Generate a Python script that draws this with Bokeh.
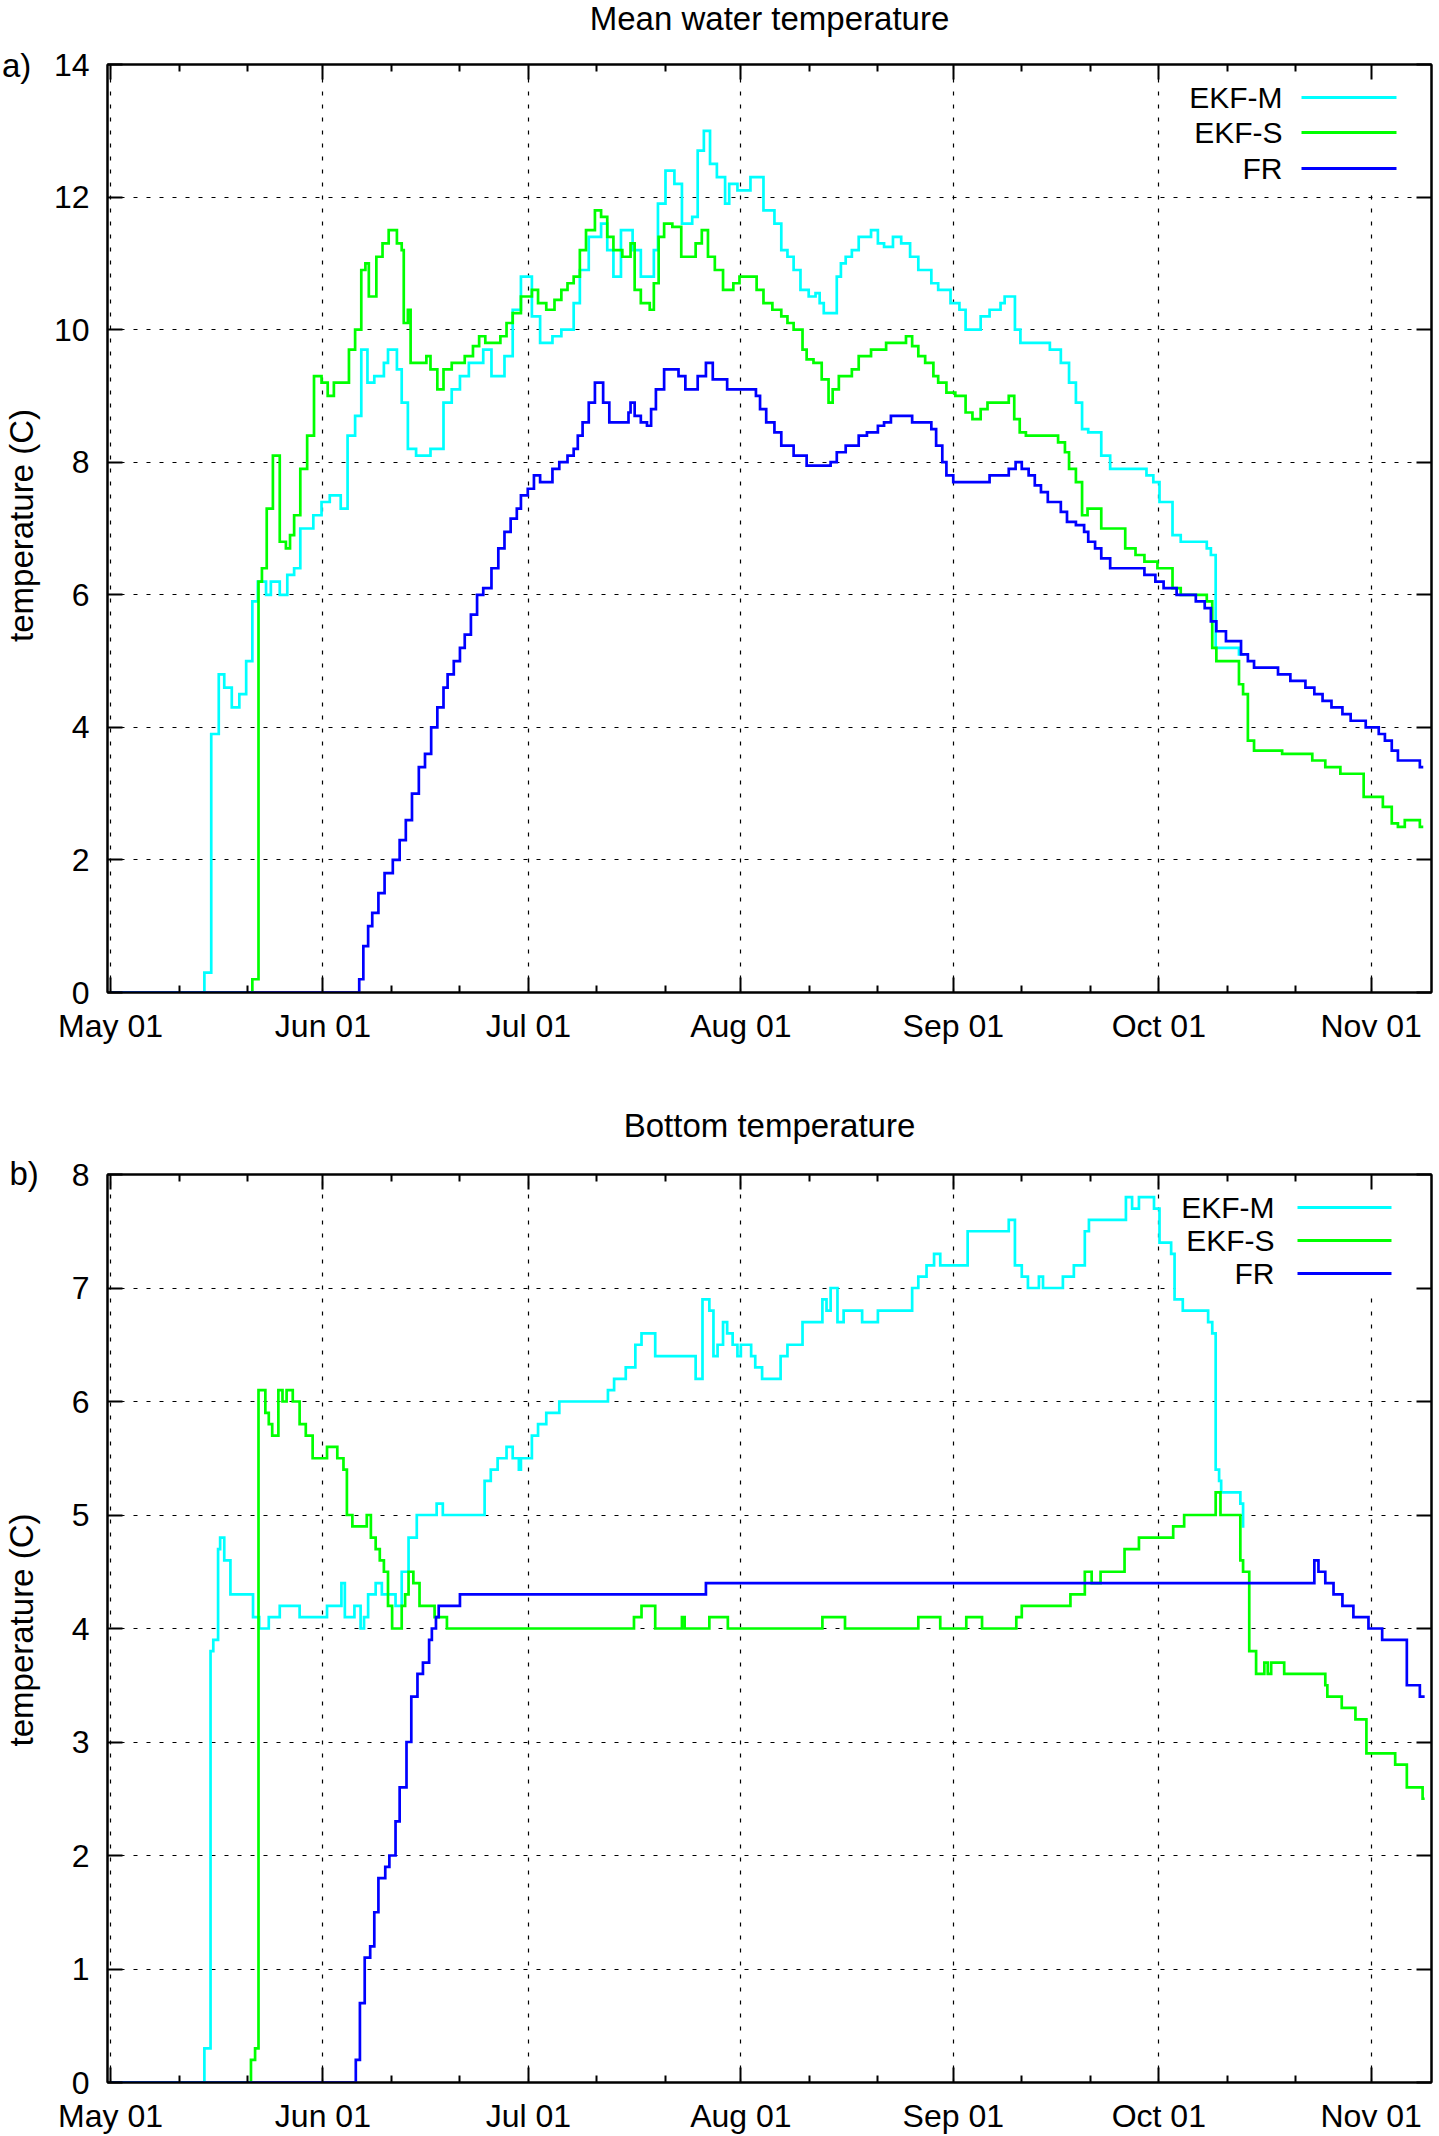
from bokeh.plotting import figure
from bokeh.models import Range1d, FixedTicker, LinearAxis, Label, BoxAnnotation
from bokeh.core.properties import value
from bokeh.layouts import column
from bokeh.embed import file_html
from bokeh.resources import INLINE

FONT = "Liberation Sans"

# ---------------- axis ticks / labels ----------------
month_days = [0, 31, 61, 92, 123, 153, 184]
month_labels = ["May 01", "Jun 01", "Jul 01", "Aug 01", "Sep 01", "Oct 01", "Nov 01"]
minor_days = [10, 20, 41, 51, 71, 81, 102, 112, 133, 143, 163, 173]
x_start, x_end = -0.44, 192.8

mean_yticks = [0, 2, 4, 6, 8, 10, 12, 14]
bottom_yticks = [0, 1, 2, 3, 4, 5, 6, 7, 8]

series_names = ["EKF-M", "EKF-S", "FR"]
series_colors = ["#00ffff", "#00ff00", "#0000ff"]

# ---------------- a) Mean water temperature ----------------
# days since May 01, temperature (C)
mean_ekfm_day = [0, 13.7, 14.7, 15.8, 16.6, 17.7, 18.8, 19.8, 20.7, 21.5,
                 22.7, 23.4, 24.7, 25.8, 26.8, 27.7, 29.6, 30.8, 32.0, 33.6,
                 34.6, 35.7, 36.6, 37.5, 38.5, 39.9, 40.5, 41.8, 42.5, 43.4,
                 44.6, 46.7, 48.6, 49.8, 51.0, 52.3, 54.4, 55.6, 57.5, 58.7,
                 59.9, 61.5, 62.7, 64.5, 65.8, 67.6, 68.5, 69.8, 71.6, 72.5,
                 73.4, 74.5, 76.2, 77.4, 79.3, 79.9, 81.0, 82.3, 83.4, 84.9,
                 85.7, 86.6, 87.5, 88.5, 89.7, 90.3, 91.5, 93.4, 95.3, 96.9,
                 97.9, 98.8, 99.7, 100.7, 101.9, 102.9, 103.5, 104.1, 106.0, 106.6,
                 107.3, 108.2, 109.2, 111.0, 112.0, 112.9, 114.2, 115.4, 116.7, 117.9,
                 119.8, 120.8, 122.6, 123.9, 124.8, 127.0, 128.3, 129.9, 130.5, 132.0,
                 132.8, 137.1, 138.7, 139.9, 140.9, 141.8, 142.7, 144.6, 145.9, 151.2,
                 152.2, 153.1, 155.0, 156.2, 160.0, 160.6, 161.3, 164.7, 165.5]
mean_ekfm_temp = [0.0, 0.3, 3.9, 4.8, 4.6, 4.3, 4.5, 5.0, 5.9, 6.2,
                  6.0, 6.2, 6.0, 6.3, 6.4, 7.0, 7.2, 7.4, 7.5, 7.3,
                  8.4, 8.7, 9.7, 9.2, 9.3, 9.5, 9.7, 9.4, 8.9, 8.2,
                  8.1, 8.2, 8.9, 9.1, 9.3, 9.5, 9.7, 9.3, 9.6, 10.3,
                  10.8, 10.2, 9.8, 9.9, 10.0, 10.4, 10.9, 11.4, 11.6, 11.2,
                  10.8, 11.5, 11.2, 10.8, 11.2, 11.9, 12.4, 12.2, 11.6, 11.7,
                  12.7, 13.0, 12.5, 12.3, 11.9, 12.2, 12.1, 12.3, 11.8, 11.6,
                  11.2, 11.1, 10.9, 10.6, 10.5, 10.55, 10.4, 10.25, 10.8, 11.0,
                  11.1, 11.2, 11.4, 11.5, 11.3, 11.25, 11.4, 11.3, 11.1, 10.9,
                  10.7, 10.6, 10.4, 10.3, 10.0, 10.2, 10.3, 10.4, 10.5, 10.0,
                  9.8, 9.7, 9.5, 9.2, 8.9, 8.5, 8.45, 8.1, 7.9, 7.8,
                  7.7, 7.4, 6.9, 6.8, 6.7, 6.6, 5.2, 5.1, 5.1]

mean_ekfs_day = [0, 20.7, 21.6, 22.1, 22.8, 23.7, 24.7, 25.6, 26.2, 26.8,
                 27.7, 28.7, 29.7, 30.8, 31.7, 32.6, 34.8, 35.7, 36.6, 37.2,
                 37.7, 38.8, 39.7, 40.6, 41.8, 42.5, 42.8, 43.4, 43.8, 46.1,
                 46.7, 47.7, 48.6, 49.8, 51.7, 52.9, 53.8, 54.7, 56.9, 57.8,
                 58.7, 59.9, 61.5, 62.4, 63.6, 64.8, 65.8, 66.7, 67.6, 68.5,
                 69.4, 70.7, 71.6, 72.5, 73.4, 74.7, 75.9, 76.5, 77.4, 78.7,
                 79.3, 80.0, 80.8, 82.0, 83.3, 85.4, 86.3, 87.2, 88.2, 89.4,
                 90.9, 91.8, 94.3, 95.3, 96.6, 97.9, 98.8, 99.7, 101.0, 101.6,
                 102.6, 103.8, 104.8, 105.4, 106.3, 108.2, 109.2, 111.0, 113.2, 116.1,
                 117.0, 117.9, 118.9, 120.1, 120.8, 122.0, 123.3, 124.8, 125.8, 127.0,
                 128.0, 131.1, 131.9, 132.7, 133.6, 138.3, 139.3, 139.9, 140.9, 141.8,
                 142.6, 144.6, 148.1, 149.6, 150.9, 152.8, 155.0, 156.2, 160.0, 160.8,
                 161.4, 164.7, 165.3, 166.0, 166.9, 171.0, 175.4, 177.3, 179.5, 182.9,
                 185.7, 187.0, 187.9, 188.9, 191.1, 191.6]
mean_ekfs_temp = [0.0, 0.2, 6.2, 6.4, 7.3, 8.1, 6.8, 6.7, 6.9, 7.2,
                  7.9, 8.4, 9.3, 9.2, 9.0, 9.2, 9.7, 10.0, 10.9, 11.0,
                  10.5, 11.1, 11.3, 11.5, 11.3, 11.2, 10.1, 10.3, 9.5, 9.6,
                  9.4, 9.1, 9.4, 9.5, 9.6, 9.75, 9.9, 9.8, 9.9, 10.1,
                  10.25, 10.5, 10.6, 10.4, 10.3, 10.45, 10.6, 10.7, 10.8, 11.2,
                  11.5, 11.8, 11.7, 11.4, 11.2, 11.1, 11.3, 10.6, 10.4, 10.3,
                  10.7, 11.4, 11.6, 11.55, 11.1, 11.3, 11.5, 11.1, 10.9, 10.6,
                  10.7, 10.8, 10.6, 10.4, 10.3, 10.2, 10.1, 10.0, 9.7, 9.55,
                  9.5, 9.25, 8.9, 9.1, 9.3, 9.4, 9.6, 9.7, 9.8, 9.9,
                  9.75, 9.6, 9.5, 9.3, 9.2, 9.05, 9.0, 8.75, 8.65, 8.8,
                  8.9, 9.0, 8.65, 8.45, 8.4, 8.3, 8.15, 7.9, 7.7, 7.2,
                  7.3, 7.0, 6.7, 6.6, 6.5, 6.4, 6.1, 6.0, 5.9, 5.2,
                  5.0, 4.65, 4.5, 3.8, 3.65, 3.6, 3.5, 3.4, 3.3, 2.95,
                  2.8, 2.55, 2.5, 2.6, 2.5, 2.5]

mean_fr_day = [0, 35.7, 36.3, 36.9, 37.6, 38.2, 39.1, 40.0, 41.2, 42.2,
               43.1, 44.0, 45.0, 45.9, 46.8, 47.7, 48.6, 49.2, 50.1, 51.0,
               51.7, 52.6, 53.5, 54.4, 55.6, 56.6, 57.5, 58.4, 59.3, 59.9,
               60.9, 61.8, 62.7, 64.5, 65.5, 66.7, 67.6, 68.2, 68.9, 69.8,
               70.7, 71.9, 72.8, 75.6, 75.9, 76.5, 77.4, 78.3, 78.9, 79.6,
               80.8, 82.9, 83.9, 85.7, 86.9, 87.9, 90.0, 94.2, 94.8, 95.7,
               96.9, 97.9, 99.7, 101.6, 105.1, 106.0, 107.3, 109.2, 110.4, 112.0,
               112.9, 113.9, 117.0, 119.8, 120.5, 121.4, 122.0, 123.0, 128.3, 131.1,
               132.1, 133.0, 134.0, 134.9, 135.8, 136.8, 138.7, 139.6, 140.9, 142.1,
               142.7, 143.7, 144.6, 145.9, 150.9, 152.5, 153.7, 155.6, 158.4, 159.7,
               160.6, 161.4, 162.8, 165.0, 166.0, 166.9, 170.4, 172.2, 174.4, 175.7,
               176.9, 178.2, 179.8, 181.0, 183.2, 185.1, 186.0, 187.0, 187.9, 191.1,
               191.6]
mean_fr_temp = [0.0, 0.0, 0.2, 0.7, 1.0, 1.2, 1.5, 1.8, 2.0, 2.3,
                2.6, 3.0, 3.4, 3.6, 4.0, 4.3, 4.6, 4.8, 5.0, 5.2,
                5.4, 5.7, 6.0, 6.1, 6.4, 6.7, 6.95, 7.15, 7.3, 7.5,
                7.6, 7.8, 7.7, 7.9, 8.0, 8.1, 8.2, 8.4, 8.6, 8.9,
                9.2, 8.9, 8.6, 8.75, 8.9, 8.7, 8.6, 8.55, 8.8, 9.1,
                9.4, 9.3, 9.1, 9.3, 9.5, 9.25, 9.1, 9.0, 8.8, 8.6,
                8.45, 8.25, 8.1, 7.95, 8.0, 8.15, 8.25, 8.4, 8.45, 8.55,
                8.6, 8.7, 8.6, 8.5, 8.25, 8.0, 7.8, 7.7, 7.8, 7.9,
                8.0, 7.9, 7.8, 7.65, 7.55, 7.4, 7.25, 7.1, 7.05, 6.95,
                6.8, 6.7, 6.55, 6.4, 6.3, 6.2, 6.1, 6.0, 5.9, 5.8,
                5.6, 5.45, 5.3, 5.1, 5.0, 4.9, 4.8, 4.7, 4.6, 4.5,
                4.4, 4.3, 4.2, 4.1, 4.0, 3.9, 3.8, 3.65, 3.5, 3.4,
                3.4]

# ---------------- b) Bottom temperature ----------------
bot_ekfm_day = [0, 13.7, 14.6, 15.0, 15.7, 16.0, 16.6, 17.5, 20.8, 21.7,
                23.1, 24.7, 27.6, 31.6, 33.7, 34.2, 35.6, 36.5, 37.0, 37.6,
                38.7, 39.6, 41.6, 42.5, 43.5, 44.7, 47.6, 48.5, 54.6, 55.5,
                56.5, 57.8, 58.7, 59.6, 59.9, 61.5, 62.4, 63.6, 65.5, 72.6,
                73.5, 75.2, 76.6, 77.5, 79.5, 85.4, 86.4, 87.4, 88.0, 88.6,
                89.4, 90.0, 90.8, 91.5, 92.0, 93.5, 94.1, 95.1, 97.8, 98.8,
                101.0, 103.9, 104.5, 105.1, 106.1, 107.0, 109.7, 112.0, 117.0, 117.9,
                119.1, 120.2, 121.1, 125.1, 131.1, 132.0, 133.0, 133.9, 135.5, 136.1,
                139.0, 140.6, 142.2, 142.8, 148.2, 149.1, 150.1, 152.3, 153.1, 154.8,
                155.3, 156.5, 160.2, 160.8, 161.3, 161.8, 162.1, 164.9, 165.3, 165.5]
bot_ekfm_temp = [0.0, 0.3, 3.8, 3.9, 4.7, 4.8, 4.6, 4.3, 4.1, 4.0,
                 4.1, 4.2, 4.1, 4.2, 4.4, 4.1, 4.2, 4.0, 4.1, 4.3,
                 4.4, 4.3, 4.2, 4.5, 4.8, 5.0, 5.1, 5.0, 5.3, 5.4,
                 5.5, 5.6, 5.5, 5.4, 5.5, 5.7, 5.8, 5.9, 6.0, 6.1,
                 6.2, 6.3, 6.5, 6.6, 6.4, 6.2, 6.9, 6.8, 6.4, 6.5,
                 6.7, 6.6, 6.5, 6.4, 6.5, 6.4, 6.3, 6.2, 6.4, 6.5,
                 6.7, 6.9, 6.8, 7.0, 6.7, 6.8, 6.7, 6.8, 7.0, 7.1,
                 7.2, 7.3, 7.2, 7.5, 7.6, 7.2, 7.1, 7.0, 7.1, 7.0,
                 7.1, 7.2, 7.5, 7.6, 7.8, 7.7, 7.8, 7.7, 7.4, 7.3,
                 6.9, 6.8, 6.7, 6.6, 5.4, 5.3, 5.2, 5.1, 4.9, 4.9]

bot_ekfs_day = [0, 20.5, 21.1, 21.6, 22.6, 23.1, 23.6, 24.5, 25.1, 25.7,
                26.6, 27.6, 28.5, 29.5, 31.6, 33.1, 34.0, 34.5, 35.3, 37.4,
                38.0, 38.7, 39.3, 39.9, 40.5, 41.1, 42.5, 43.0, 43.5, 44.2,
                45.1, 47.3, 49.1, 76.4, 77.5, 79.5, 83.4, 83.8, 87.4, 90.1,
                103.9, 107.2, 117.9, 121.1, 124.9, 127.2, 132.2, 133.0, 140.1, 142.2,
                143.2, 144.5, 148.0, 150.1, 155.1, 156.7, 161.3, 162.0, 164.9, 165.3,
                166.2, 167.2, 168.4, 168.9, 169.4, 171.3, 177.3, 177.6, 179.7, 181.7,
                183.3, 187.5, 189.2, 191.5, 191.8]
bot_ekfs_temp = [0.0, 0.2, 0.3, 6.1, 5.9, 5.8, 5.7, 6.1, 6.0, 6.1,
                 6.0, 5.8, 5.7, 5.5, 5.6, 5.5, 5.4, 5.0, 4.9, 5.0,
                 4.8, 4.7, 4.6, 4.5, 4.2, 4.0, 4.2, 4.3, 4.5, 4.4,
                 4.2, 4.1, 4.0, 4.1, 4.2, 4.0, 4.1, 4.0, 4.1, 4.0,
                 4.1, 4.0, 4.1, 4.0, 4.1, 4.0, 4.1, 4.2, 4.3, 4.5,
                 4.4, 4.5, 4.7, 4.8, 4.9, 5.0, 5.2, 5.0, 4.6, 4.5,
                 3.8, 3.6, 3.7, 3.6, 3.7, 3.6, 3.5, 3.4, 3.3, 3.2,
                 2.9, 2.8, 2.6, 2.5, 2.5]

bot_fr_day = [0, 35.8, 36.4, 37.1, 37.9, 38.5, 39.1, 40.1, 40.7, 41.6,
              42.2, 43.2, 43.9, 44.8, 45.6, 46.5, 46.9, 47.5, 47.9, 51.0,
              86.9, 175.7, 176.3, 177.3, 178.5, 179.8, 181.4, 183.6, 185.6, 189.2,
              191.1, 191.8]
bot_fr_temp = [0.0, 0.2, 0.7, 1.1, 1.2, 1.5, 1.8, 1.9, 2.0, 2.3,
               2.6, 3.0, 3.4, 3.6, 3.7, 3.9, 4.0, 4.1, 4.2, 4.3,
               4.4, 4.6, 4.5, 4.4, 4.3, 4.2, 4.1, 4.0, 3.9, 3.5,
               3.4, 3.4]


def canvas_label(p, x, y, text, size, align="left", baseline="alphabetic"):
    p.add_layout(Label(x=x, y=y, x_units="canvas", y_units="canvas", text=text,
                       text_font=FONT, text_font_size=size, text_color="black",
                       text_align=align, text_baseline=baseline))


def border_text(p, cfg, yticks, cx, cy, text, size, align="left", angle=0.0):
    """Text outside the frame: a text glyph on the overlay level (not clipped),
    positioned by converting canvas pixels to data space."""
    fw = cfg["width"] - cfg["left"] - cfg["right"]
    fh = cfg["height"] - cfg["top"] - cfg["bottom"]
    dx = x_start + (cx - cfg["left"]) / fw * (x_end - x_start)
    dy = yticks[-1] - (cy - cfg["top"]) / fh * (yticks[-1] - yticks[0])
    p.text(x=[dx], y=[dy], text=[text], text_font=value(FONT),
           text_font_size=value(size), text_color="black",
           text_align=align, text_baseline="alphabetic", angle=angle,
           level="overlay")


def make_panel(title, tag, yticks, series, cfg):
    p = figure(width=cfg["width"], height=cfg["height"], output_backend="svg",
               toolbar_location=None, tools="",
               x_range=Range1d(x_start, x_end),
               y_range=Range1d(yticks[0], yticks[-1]),
               min_border_left=cfg["left"], min_border_right=cfg["right"],
               min_border_top=cfg["top"], min_border_bottom=cfg["bottom"],
               background_fill_color="white", border_fill_color="white",
               outline_line_color="black", outline_line_width=2)

    xt = FixedTicker(ticks=month_days, minor_ticks=minor_days)
    yt = FixedTicker(ticks=yticks, minor_ticks=[])

    xa = p.xaxis[0]
    xa.ticker = xt
    xa.major_label_overrides = {d: l for d, l in zip(month_days, month_labels)}
    ya = p.yaxis[0]
    ya.ticker = yt
    for ax, standoff in ((xa, cfg["xstandoff"]), (ya, 18)):
        ax.major_label_text_font = FONT
        ax.major_label_text_font_size = "32px"
        ax.major_label_text_color = "black"
        ax.major_label_standoff = standoff
        ax.major_tick_in = 15
        ax.major_tick_out = 0
        ax.minor_tick_in = 7
        ax.minor_tick_out = 0
        ax.major_tick_line_width = 2
        ax.minor_tick_line_width = 2
        ax.axis_line_width = 2
        ax.axis_line_color = "black"
        ax.major_tick_line_color = "black"
        ax.minor_tick_line_color = "black"

    # mirrored ticks on top and right
    top_ax = LinearAxis(ticker=xt, major_label_overrides={d: "" for d in month_days},
                        major_label_text_font_size="1px", major_label_standoff=0,
                        major_tick_in=15, major_tick_out=0, minor_tick_in=7, minor_tick_out=0,
                        major_tick_line_width=2, minor_tick_line_width=2, axis_line_width=2)
    right_ax = LinearAxis(ticker=yt, major_label_overrides={v: "" for v in yticks},
                          major_label_text_font_size="1px", major_label_standoff=0,
                          major_tick_in=15, major_tick_out=0, minor_tick_in=0, minor_tick_out=0,
                          major_tick_line_width=2, axis_line_width=2)
    p.add_layout(top_ax, "above")
    p.add_layout(right_ax, "right")

    p.xgrid[0].ticker = FixedTicker(ticks=month_days)
    p.ygrid[0].ticker = FixedTicker(ticks=yticks)
    for g in (p.xgrid[0], p.ygrid[0]):
        g.grid_line_color = "black"
        g.grid_line_width = 1.2
        g.grid_line_dash = "4 9"

    # opaque key background
    lg = cfg["legend"]
    p.add_layout(BoxAnnotation(left=lg["box"][0], right=lg["box"][1],
                               top=lg["box"][2], bottom=lg["box"][3],
                               left_units="canvas", right_units="canvas",
                               top_units="canvas", bottom_units="canvas",
                               fill_color="white", fill_alpha=1.0, line_alpha=0,
                               level="underlay"))

    for (days, temps), color in zip(series, series_colors):
        p.step(days, temps, mode="after", line_color=color, line_width=2.7, line_join="miter")

    for name, color, ry in zip(series_names, series_colors, lg["rows"]):
        canvas_label(p, lg["text_x"], ry, name, "30px", align="right", baseline="middle")
        p.add_layout(BoxAnnotation(left=lg["sample"][0], right=lg["sample"][1],
                                   top=ry - 1.4, bottom=ry + 1.4,
                                   left_units="canvas", right_units="canvas",
                                   top_units="canvas", bottom_units="canvas",
                                   fill_color=color, fill_alpha=1.0, line_alpha=0,
                                   level="overlay"))

    border_text(p, cfg, yticks, cfg["title_xy"][0], cfg["title_xy"][1], title, "33px", align="center")
    border_text(p, cfg, yticks, cfg["tag_xy"][0], cfg["tag_xy"][1], tag, "33px")
    border_text(p, cfg, yticks, cfg["ylab_xy"][0], cfg["ylab_xy"][1], "temperature (C)", "33px",
                align="center", angle=1.5707963)
    return p


cfg_top = dict(width=1439, height=1078, left=107, right=2, top=64, bottom=86, xstandoff=15,
               title_xy=(772, 18), tag_xy=(1, 65), ylab_xy=(21, 525),
               legend=dict(box=(1175, 1413, 66, 190), rows=[97, 132, 168],
                           text_x=1282, sample=(1301, 1396)))
cfg_bot = dict(width=1439, height=1058, left=107, right=8, top=96, bottom=53, xstandoff=15,
               title_xy=(769, 47), tag_xy=(9, 95), ylab_xy=(21, 552),
               legend=dict(box=(1175, 1413, 98, 214), rows=[129, 162, 195],
                           text_x=1274, sample=(1297, 1391)))

p1 = make_panel("Mean water temperature", "a)", mean_yticks,
                [(mean_ekfm_day, mean_ekfm_temp), (mean_ekfs_day, mean_ekfs_temp),
                 (mean_fr_day, mean_fr_temp)], cfg_top)
p2 = make_panel("Bottom temperature", "b)", bottom_yticks,
                [(bot_ekfm_day, bot_ekfm_temp), (bot_ekfs_day, bot_ekfs_temp),
                 (bot_fr_day, bot_fr_temp)], cfg_bot)

layout = column(p1, p2, spacing=0)
open("out.html", "w").write(file_html(layout, INLINE, title="Water temperature"))
